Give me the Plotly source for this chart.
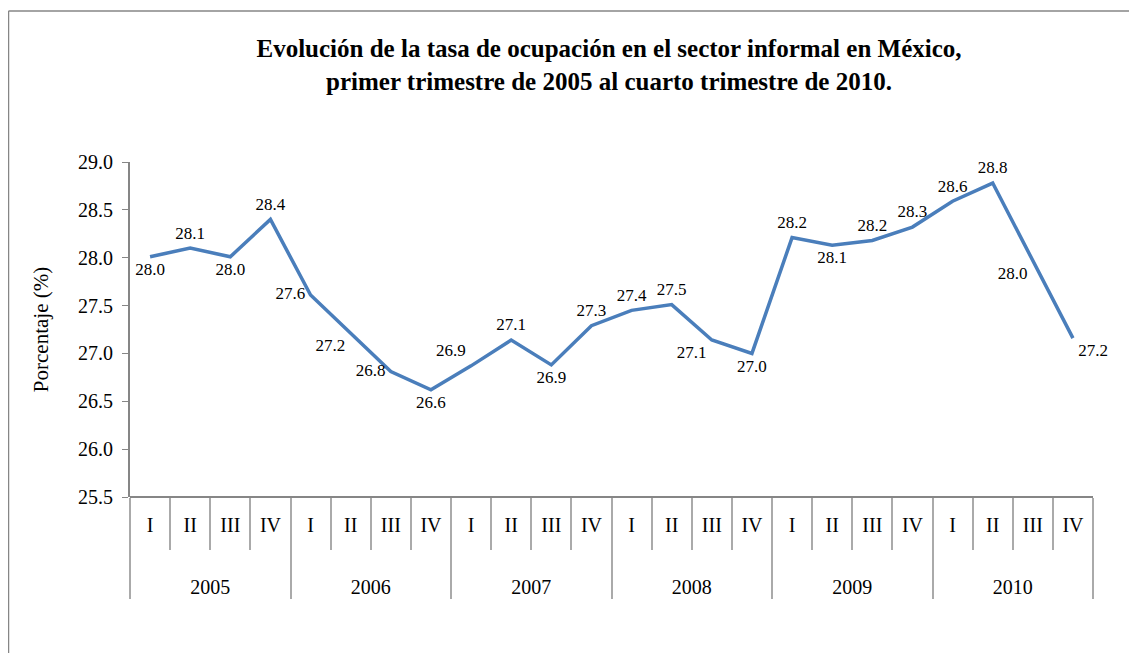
import plotly.graph_objects as go

# ===============================
# 데이터
# ===============================
years = ["2005", "2006", "2007", "2008", "2009", "2010"]
quarters = ["I", "II", "III", "IV"]
tasa = [
    28.01, 28.10, 28.01, 28.40,
    27.61, 27.21, 26.81, 26.62,
    26.87, 27.14, 26.88, 27.29,
    27.45, 27.51, 27.14, 27.00,
    28.21, 28.13, 28.18, 28.32,
    28.59, 28.78, 27.97, 27.16,
]
label_pos = [
    "bottom center", "top center", "bottom center", "top center",
    "middle left", "bottom left", "middle left", "bottom center",
    "top left", "top center", "bottom center", "top center",
    "top center", "top center", "bottom left", "bottom center",
    "top center", "bottom center", "top center", "top center",
    "top center", "top center", "bottom left", "bottom right",
]

# 두 번째 단계(연도) 라벨은 두 줄 아래로 내림
x_year = ["<br><br>" + y for y in years for _ in quarters]
x_quarter = [q for _ in years for q in quarters]

FONT = "Liberation Serif, Times New Roman, serif"
AXIS_GRAY = "rgb(134,134,134)"
DIV_GRAY = "rgb(170,170,170)"

# 페이지 body 여백(8px)을 고려한 크기
W, H = 1129, 645
L, R, T, B = 122, 44, 154, 156
plot_w, plot_h = W - L - R, H - T - B

fig = go.Figure()
fig.add_trace(
    go.Scatter(
        x=[x_year, x_quarter],
        y=tasa,
        mode="lines+markers+text",
        text=[f"{v:.1f}" for v in tasa],
        textposition=label_pos,
        textfont=dict(family=FONT, size=17, color="black"),
        line=dict(color="rgb(74,126,187)", width=3.5),
        marker=dict(size=7, opacity=0),
        cliponaxis=False,
        hoverinfo="skip",
        showlegend=False,
    )
)

fig.update_layout(
    width=W,
    height=H,
    paper_bgcolor="white",
    plot_bgcolor="white",
    margin=dict(l=L, r=R, t=T, b=B),
    font=dict(family=FONT, size=20, color="black"),
    title=dict(
        text="Evolución de la tasa de ocupación en el sector informal en México,"
        "<br>primer trimestre de 2005 al cuarto trimestre de 2010.",
        font=dict(family=FONT, size=25, color="black", weight="bold"),
        x=601 / W,
        xref="container",
        xanchor="center",
        y=1 - 49 / H,
        yref="container",
        yanchor="middle",
    ),
    showlegend=False,
)
fig.update_yaxes(
    range=[25.5, 29.0],
    dtick=0.5,
    tickformat=".1f",
    showgrid=False,
    zeroline=False,
    showline=True,
    linecolor=AXIS_GRAY,
    linewidth=2,
    ticks="outside",
    ticklen=6,
    tickcolor=AXIS_GRAY,
    ticklabelstandoff=5,
    tickfont=dict(family=FONT, size=20, color="black"),
    title=dict(text="Porcentaje (%)", font=dict(family=FONT, size=21, color="black"), standoff=24),
)
fig.update_xaxes(
    type="multicategory",
    range=[-0.5, len(tasa) - 0.5],
    showgrid=False,
    zeroline=False,
    showline=False,
    ticks="outside",
    ticklen=52,
    tickcolor=DIV_GRAY,
    tickwidth=1.5,
    tickson="boundaries",
    ticklabelstandoff=14,
    showdividers=True,
    dividercolor=DIV_GRAY,
    dividerwidth=1.5,
    tickfont=dict(family=FONT, size=20, color="black"),
)

# x축 선
fig.add_shape(type="line", xref="paper", yref="paper", x0=0, x1=1, y0=0, y1=0,
              line=dict(color=AXIS_GRAY, width=2))

# 외곽 프레임
frame_x = (0.5 - L) / plot_w
frame_y = (T + plot_h - 3) / plot_h
fig.add_shape(type="line", xref="paper", yref="paper",
              x0=frame_x, x1=1.2, y0=frame_y, y1=frame_y,
              line=dict(color=AXIS_GRAY, width=1.5))
fig.add_shape(type="line", xref="paper", yref="paper",
              x0=frame_x, x1=frame_x, y0=frame_y, y1=-0.6,
              line=dict(color=AXIS_GRAY, width=1.5))

fig.write_html("out.html")
